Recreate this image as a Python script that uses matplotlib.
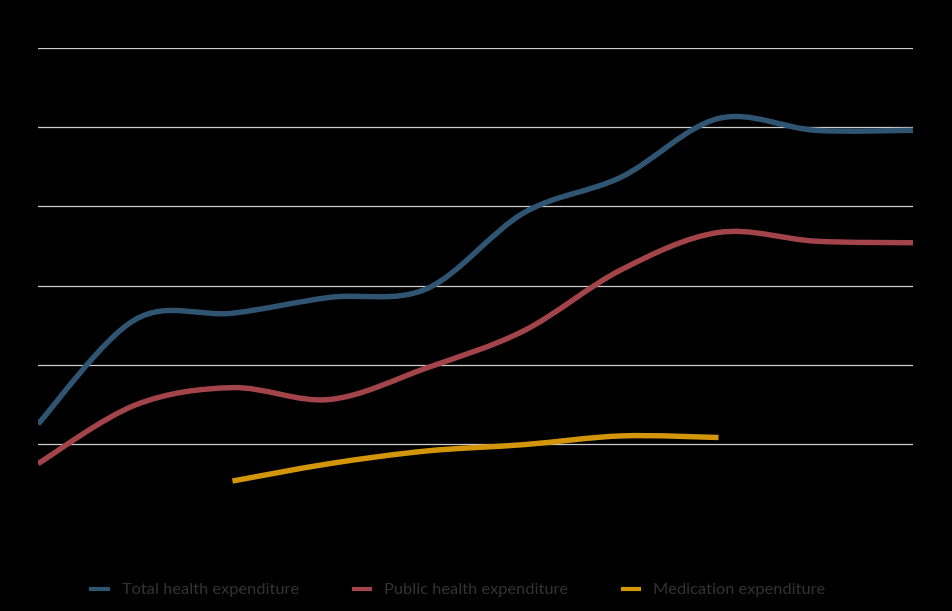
import matplotlib.pyplot as plt
from matplotlib.path import Path
from matplotlib.patches import PathPatch
from matplotlib.lines import Line2D

# data
years = [2000, 2002, 2004, 2006, 2008, 2010, 2012, 2014, 2016, 2018]
total_health = [1250, 2570, 2650, 2850, 2960, 3920, 4370, 5110, 4960, 4960]
public_health = [750, 1490, 1710, 1560, 1960, 2430, 3200, 3670, 3560, 3540]
med_years = [2004, 2006, 2008, 2010, 2012, 2014]
medication = [530, 750, 910, 990, 1100, 1080]

labels = ["Total health expenditure", "Public health expenditure", "Medication expenditure"]
colors = ["#2f5573", "#a3444a", "#d3960a"]


def smooth_path(xs, ys):
    # catmull-rom spline through the points, as cubic bezier segments
    pts = list(zip(xs, ys))
    verts = [pts[0]]
    codes = [Path.MOVETO]
    for i in range(len(pts) - 1):
        p0 = pts[i - 1] if i > 0 else pts[i]
        p1 = pts[i]
        p2 = pts[i + 1]
        p3 = pts[i + 2] if i + 2 < len(pts) else pts[i + 1]
        c1 = (p1[0] + (p2[0] - p0[0]) / 6, p1[1] + (p2[1] - p0[1]) / 6)
        c2 = (p2[0] - (p3[0] - p1[0]) / 6, p2[1] - (p3[1] - p1[1]) / 6)
        verts += [c1, c2, p2]
        codes += [Path.CURVE4] * 3
    return Path(verts, codes)


fig = plt.figure(figsize=(9.53, 6.11), dpi=100, facecolor="black")
ax = fig.add_axes([38 / 953, 1 - 523 / 611, 875 / 953, 475 / 611])
ax.set_facecolor("black")

for xs, ys, c in [(years, total_health, colors[0]),
                  (years, public_health, colors[1]),
                  (med_years, medication, colors[2])]:
    ax.add_patch(PathPatch(smooth_path(xs, ys), facecolor="none", edgecolor=c,
                           lw=3.9, capstyle="butt", zorder=3))

ax.set_xlim(2000, 2018)
ax.set_ylim(0, 6000)
ax.set_yticks([1000, 2000, 3000, 4000, 5000, 6000])
ax.set_xticks(years)
# tick labels sit inside the plot, drawn in the background colour
ax.tick_params(axis="y", colors="black", labelcolor="black", length=0,
               pad=-10, labelsize=8)
ax.tick_params(axis="x", colors="black", labelcolor="black", length=0)
for t in ax.get_yticklabels():
    t.set_horizontalalignment("left")
    t.set_verticalalignment("bottom")
ax.yaxis.grid(True, color="#cccccc", lw=0.9)
ax.set_axisbelow(True)
for s in ax.spines.values():
    s.set_visible(False)

handles = [Line2D([], [], color=c, lw=3) for c in colors]
fig.legend(handles, labels, loc="center", bbox_to_anchor=(0.481, 1 - 590 / 611),
           ncol=3, frameon=False, handlelength=1.0, handletextpad=0.85,
           columnspacing=3.35, prop={"family": "Lato", "size": 11.8},
           labelcolor="#333333")

fig.savefig("out.png", dpi=100, facecolor="black")
